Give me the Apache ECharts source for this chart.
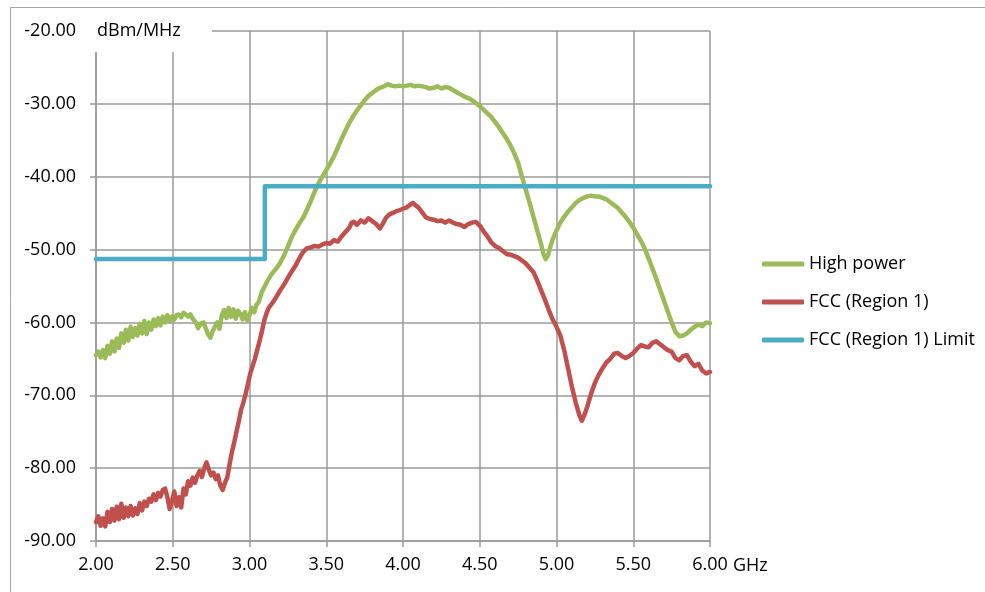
<!DOCTYPE html>
<html>
<head>
<meta charset="utf-8">
<title>Spectrum</title>
<script src="https://cdn.jsdelivr.net/npm/echarts@6/dist/echarts.min.js"></script>
<style>
  html, body { margin: 0; padding: 0; background: #fff; }
  #chart { width: 985px; height: 592px; }
</style>
</head>
<body>
<div id="chart"></div>
<script>
  // x: GHz, y: dBm/MHz
  var yTicks = [-90, -80, -70, -60, -50, -40, -30, -20];
  var xTicks = [2.0, 2.5, 3.0, 3.5, 4.0, 4.5, 5.0, 5.5, 6.0];
  var legendNames = ['High power', 'FCC (Region 1)', 'FCC (Region 1) Limit'];

  // High power
  var highPower = [
    [2.000,-64.5],[2.015,-64.0],[2.030,-64.8],[2.045,-63.8],[2.060,-64.9],[2.075,-63.2],[2.090,-64.3],
    [2.105,-62.6],[2.120,-64.0],[2.135,-62.2],[2.150,-63.5],[2.165,-61.5],[2.180,-62.8],[2.195,-61.0],
    [2.210,-62.5],[2.225,-60.6],[2.240,-62.0],[2.255,-60.8],[2.270,-61.8],[2.285,-60.2],[2.300,-61.5],
    [2.315,-59.8],[2.330,-61.6],[2.345,-60.0],[2.360,-61.0],[2.375,-59.6],[2.390,-60.5],[2.405,-59.4],
    [2.420,-60.4],[2.435,-59.2],[2.450,-60.0],[2.465,-59.0],[2.480,-59.8],[2.495,-59.2],[2.510,-59.6],
    [2.525,-59.0],[2.540,-58.9],[2.555,-59.3],[2.570,-58.7],[2.585,-58.9],[2.600,-59.2],[2.615,-58.9],
    [2.630,-59.5],[2.650,-60.0],[2.665,-60.8],[2.680,-60.2],[2.700,-60.0],[2.715,-60.8],[2.730,-61.6],
    [2.745,-62.1],[2.760,-61.2],[2.775,-60.6],[2.790,-60.0],[2.805,-60.9],[2.820,-59.0],[2.835,-58.3],
    [2.850,-59.4],[2.865,-58.0],[2.880,-59.2],[2.895,-58.2],[2.910,-59.5],[2.925,-58.4],[2.940,-58.8],
    [2.955,-59.6],[2.970,-58.6],[2.985,-59.7],[3.000,-59.0],[3.015,-58.0],[3.030,-58.6],[3.045,-57.6],
    [3.060,-57.2],[3.080,-55.8],[3.100,-55.0],[3.125,-54.0],[3.150,-53.2],[3.175,-52.6],[3.200,-51.8],
    [3.225,-50.8],[3.250,-49.6],[3.275,-48.3],[3.300,-47.3],[3.325,-46.4],[3.350,-45.6],[3.375,-44.5],
    [3.400,-43.3],[3.425,-42.0],[3.450,-40.9],[3.475,-40.0],[3.500,-39.1],[3.525,-38.2],[3.550,-37.2],
    [3.575,-36.0],[3.600,-34.8],[3.625,-33.7],[3.650,-32.6],[3.675,-31.7],[3.700,-30.9],[3.725,-30.2],
    [3.750,-29.5],[3.775,-28.9],[3.800,-28.5],[3.825,-28.1],[3.850,-27.8],[3.875,-27.6],[3.900,-27.3],
    [3.925,-27.5],[3.950,-27.6],[3.975,-27.5],[4.000,-27.6],[4.025,-27.5],[4.050,-27.4],[4.075,-27.6],
    [4.100,-27.5],[4.125,-27.6],[4.150,-27.7],[4.175,-27.9],[4.200,-27.8],[4.225,-27.6],[4.250,-27.9],
    [4.275,-27.7],[4.300,-27.8],[4.325,-28.1],[4.350,-28.4],[4.375,-28.7],[4.400,-29.0],[4.425,-29.2],
    [4.450,-29.5],[4.475,-29.9],[4.500,-30.3],[4.525,-30.8],[4.550,-31.3],[4.575,-31.8],[4.600,-32.5],
    [4.625,-33.2],[4.650,-34.0],[4.675,-34.8],[4.700,-35.7],[4.725,-36.8],[4.750,-38.1],[4.775,-40.0],
    [4.800,-41.8],[4.825,-43.6],[4.850,-45.5],[4.875,-47.4],[4.900,-49.3],[4.915,-50.6],[4.930,-51.3],
    [4.945,-50.8],[4.960,-49.6],[4.975,-48.6],[5.000,-47.4],[5.025,-46.3],[5.050,-45.5],[5.075,-44.8],
    [5.100,-44.2],[5.125,-43.6],[5.150,-43.2],[5.175,-42.9],[5.200,-42.7],[5.225,-42.6],[5.250,-42.7],
    [5.275,-42.7],[5.300,-42.9],[5.325,-43.1],[5.350,-43.5],[5.375,-43.9],[5.400,-44.3],[5.425,-44.9],
    [5.450,-45.5],[5.475,-46.2],[5.500,-47.0],[5.525,-47.9],[5.550,-48.8],[5.575,-49.9],[5.600,-51.2],
    [5.625,-52.6],[5.650,-54.0],[5.675,-55.5],[5.700,-57.0],[5.725,-58.5],[5.750,-60.0],[5.775,-61.3],
    [5.800,-61.9],[5.825,-61.8],[5.850,-61.5],[5.875,-61.0],[5.900,-60.6],[5.925,-60.3],[5.950,-60.5],
    [5.975,-60.0],[6.000,-60.1]
  ];

  // FCC (Region 1)
  var fccRegion1 = [
    [2.000,-87.4],[2.015,-86.6],[2.030,-87.9],[2.045,-86.9],[2.060,-88.0],[2.075,-86.0],[2.090,-87.4],
    [2.105,-85.6],[2.120,-87.2],[2.135,-85.3],[2.150,-87.0],[2.165,-84.9],[2.180,-86.8],[2.195,-85.4],
    [2.210,-86.6],[2.225,-85.2],[2.240,-86.5],[2.255,-85.5],[2.270,-86.3],[2.285,-84.8],[2.300,-85.8],
    [2.315,-84.6],[2.330,-85.2],[2.345,-84.2],[2.360,-84.6],[2.375,-83.6],[2.390,-84.4],[2.405,-83.4],
    [2.420,-83.9],[2.435,-83.0],[2.450,-82.8],[2.465,-84.0],[2.480,-85.6],[2.495,-84.5],[2.510,-83.2],
    [2.525,-85.2],[2.540,-84.0],[2.555,-85.4],[2.570,-82.8],[2.585,-83.6],[2.600,-81.8],[2.615,-82.4],
    [2.630,-81.3],[2.645,-82.0],[2.660,-81.0],[2.675,-80.4],[2.690,-81.2],[2.705,-80.0],[2.720,-79.2],
    [2.735,-80.2],[2.750,-81.0],[2.765,-80.6],[2.780,-81.5],[2.795,-81.0],[2.810,-82.4],[2.825,-83.0],
    [2.840,-82.0],[2.855,-81.3],[2.870,-79.5],[2.885,-77.8],[2.900,-76.5],[2.915,-75.0],[2.930,-73.6],
    [2.945,-72.0],[2.960,-71.0],[2.975,-69.8],[2.990,-68.4],[3.005,-67.0],[3.020,-66.0],[3.035,-65.0],
    [3.050,-63.8],[3.065,-62.6],[3.080,-61.3],[3.095,-59.8],[3.110,-58.8],[3.125,-58.0],[3.150,-57.3],
    [3.175,-56.5],[3.200,-55.6],[3.225,-54.8],[3.250,-53.9],[3.275,-53.0],[3.300,-52.2],[3.325,-51.2],
    [3.350,-50.3],[3.375,-49.8],[3.400,-49.7],[3.425,-49.5],[3.450,-49.6],[3.475,-49.3],[3.500,-49.1],
    [3.525,-49.2],[3.550,-48.7],[3.575,-48.9],[3.600,-48.2],[3.625,-47.6],[3.650,-47.0],[3.665,-46.3],
    [3.680,-46.2],[3.700,-46.6],[3.725,-46.0],[3.750,-46.3],[3.775,-45.7],[3.800,-46.1],[3.825,-46.5],
    [3.850,-47.1],[3.870,-46.4],[3.890,-45.6],[3.910,-45.2],[3.930,-45.0],[3.950,-44.8],[3.975,-44.6],
    [4.000,-44.4],[4.025,-44.2],[4.050,-43.8],[4.065,-43.6],[4.080,-43.9],[4.100,-44.2],[4.125,-44.9],
    [4.150,-45.6],[4.175,-45.8],[4.200,-45.9],[4.225,-46.1],[4.250,-46.0],[4.275,-46.3],[4.300,-46.0],
    [4.325,-46.3],[4.350,-46.5],[4.375,-46.6],[4.400,-46.9],[4.425,-46.5],[4.450,-46.3],[4.475,-46.2],
    [4.500,-46.7],[4.525,-47.5],[4.550,-48.2],[4.575,-49.0],[4.600,-49.5],[4.625,-49.8],[4.650,-50.2],
    [4.675,-50.6],[4.700,-50.7],[4.725,-50.9],[4.750,-51.1],[4.775,-51.5],[4.800,-51.9],[4.825,-52.5],
    [4.850,-53.1],[4.875,-54.3],[4.900,-55.6],[4.925,-56.9],[4.950,-58.3],[4.975,-59.6],[5.000,-60.6],
    [5.025,-61.8],[5.050,-63.8],[5.075,-66.3],[5.100,-68.8],[5.125,-71.0],[5.150,-72.8],[5.165,-73.5],
    [5.180,-72.8],[5.200,-71.6],[5.225,-69.8],[5.250,-68.3],[5.275,-67.2],[5.300,-66.3],[5.325,-65.5],
    [5.350,-65.0],[5.375,-64.3],[5.400,-64.2],[5.425,-64.6],[5.450,-64.9],[5.475,-64.6],[5.500,-64.2],
    [5.525,-63.6],[5.550,-63.1],[5.575,-63.3],[5.600,-63.4],[5.625,-62.8],[5.650,-62.6],[5.675,-63.0],
    [5.700,-63.4],[5.725,-63.8],[5.750,-64.0],[5.775,-64.9],[5.800,-65.2],[5.825,-64.6],[5.850,-64.5],
    [5.875,-65.4],[5.900,-66.0],[5.925,-65.7],[5.950,-66.6],[5.975,-67.0],[6.000,-66.8]
  ];

  // FCC (Region 1) Limit
  var fccLimit = [[2.0,-51.3],[3.1,-51.3],[3.1,-41.3],[6.0,-41.3]];

  var FONT = '"Open Sans", "Noto Sans", sans-serif';
  var GRID_COLOR = '#9a9a9a';

  var chart = echarts.init(document.getElementById('chart'));

  function makeSeries(name, data, color) {
    return {
      name: name,
      type: 'line',
      data: data,
      symbol: 'none',
      animation: false,
      lineStyle: {color: color, width: 4.5, cap: 'round', join: 'round'},
      itemStyle: {color: color}
    };
  }

  chart.setOption({
    backgroundColor: '#fff',
    animation: false,
    textStyle: {fontFamily: FONT},
    grid: {left: 96, right: 275, top: 31, bottom: 51},
    legend: {
      orient: 'vertical',
      left: 757,
      top: 249,
      icon: 'roundRect',
      itemWidth: 42,
      itemHeight: 5,
      itemGap: 18,
      data: legendNames,
      textStyle: {fontFamily: FONT, fontSize: 18, color: '#000', lineHeight: 20}
    },
    xAxis: {
      type: 'value',
      min: xTicks[0],
      max: xTicks[xTicks.length - 1],
      interval: 0.5,
      axisLine: {show: true, lineStyle: {color: GRID_COLOR, width: 1.5}},
      axisTick: {show: true, length: 6, lineStyle: {color: GRID_COLOR, width: 1.5}},
      splitLine: {show: true, lineStyle: {color: GRID_COLOR, width: 1.5}},
      axisLabel: {
        margin: 15,
        fontSize: 18,
        color: '#000',
        fontFamily: FONT,
        formatter: function (v) { return v.toFixed(2); }
      }
    },
    yAxis: {
      type: 'value',
      min: yTicks[0],
      max: yTicks[yTicks.length - 1],
      interval: 10,
      axisLine: {show: true, lineStyle: {color: GRID_COLOR, width: 1.5}},
      axisTick: {show: true, length: 6, lineStyle: {color: GRID_COLOR, width: 1.5}},
      splitLine: {show: true, lineStyle: {color: GRID_COLOR, width: 1.5}},
      axisLabel: {
        margin: 20,
        fontSize: 18,
        color: '#000',
        fontFamily: FONT,
        formatter: function (v) { return v.toFixed(2); }
      }
    },
    graphic: [
      {
        type: 'rect',
        z: 0,
        silent: true,
        shape: {x: 10.5, y: 7.5, width: 1200, height: 1200},
        style: {fill: 'none', stroke: '#a6a6a6', lineWidth: 1}
      },
      {
        type: 'rect',
        z: 50,
        silent: true,
        shape: {x: 84, y: 12, width: 128, height: 40},
        style: {fill: '#fff'}
      },
      {
        type: 'text',
        z: 51,
        x: 97,
        y: 31,
        style: {text: 'dBm/MHz', font: '18px ' + FONT, fill: '#000', verticalAlign: 'middle'}
      },
      {
        type: 'text',
        z: 51,
        x: 733,
        y: 566,
        style: {text: 'GHz', font: '18px ' + FONT, fill: '#000', verticalAlign: 'middle'}
      }
    ],
    series: [
      makeSeries(legendNames[0], highPower, '#9bbb59'),
      makeSeries(legendNames[1], fccRegion1, '#c0504d'),
      makeSeries(legendNames[2], fccLimit, '#4bacc6')
    ]
  });
</script>
</body>
</html>
